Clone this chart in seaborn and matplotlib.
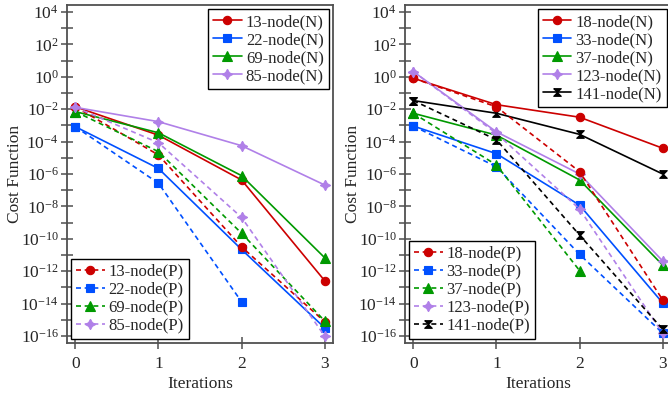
import numpy as np
import pandas as pd
import matplotlib
matplotlib.use("Agg")
import matplotlib.pyplot as plt
import seaborn as sns
from matplotlib.ticker import FixedLocator, FixedFormatter, NullFormatter

# ---------------- data ----------------
iterations = [0, 1, 2, 3]

left_labels_N = ["13-node(N)", "22-node(N)", "69-node(N)", "85-node(N)"]
left_labels_P = ["13-node(P)", "22-node(P)", "69-node(P)", "85-node(P)"]
n13_N = [1.4e-2, 2.5e-4, 4.3e-7, 2.6e-13]
n22_N = [8.3e-4, 2.2e-6, 2.2e-11, 3.2e-16]
n69_N = [7.1e-3, 3.5e-4, 7.9e-7, 6.8e-12]
n85_N = [1.3e-2, 1.7e-3, 5.6e-5, 2.1e-7]
n13_P = [1.4e-2, 1.5e-5, 3.2e-11, 7.6e-16]
n22_P = [8.3e-4, 2.7e-7, 1.3e-14, np.nan]
n69_P = [7.1e-3, 2.4e-5, 2.2e-10, 8.5e-16]
n85_P = [1.3e-2, 8.5e-5, 2.1e-9, 1.0e-16]

right_labels_N = ["18-node(N)", "33-node(N)", "37-node(N)", "123-node(N)", "141-node(N)"]
right_labels_P = ["18-node(P)", "33-node(P)", "37-node(P)", "123-node(P)", "141-node(P)"]
n18_N = [0.81, 1.9e-2, 3.2e-3, 3.9e-5]
n33_N = [9.1e-4, 1.8e-5, 1.2e-8, 1.1e-14]
n37_N = [5.6e-3, 2.5e-4, 4.3e-7, 2.4e-12]
n123_N = [2.1, 4.0e-4, 1.0e-6, 4.3e-12]
n141_N = [3.4e-2, 5.6e-3, 2.8e-4, 1.0e-6]
n18_P = [0.81, 1.4e-2, 1.4e-6, 1.7e-14]
n33_P = [9.1e-4, 2.8e-6, 1.1e-11, 1.5e-16]
n37_P = [5.6e-3, 3.6e-6, 1.1e-12, np.nan]
n123_P = [2.1, 3.2e-4, 6.9e-9, 1.5e-16]
n141_P = [3.4e-2, 1.3e-4, 1.7e-10, 2.6e-16]

ytick_exponents = list(range(-16, 5, 2))
yminor_exponents = list(range(-15, 5, 2))
xtick_labels = ["0", "1", "2", "3"]

# ---------------- style ----------------
sns.set_theme(style="ticks")
plt.rcParams["font.family"] = ["Liberation Serif", "DejaVu Serif"]
plt.rcParams["mathtext.fontset"] = "custom"
plt.rcParams["mathtext.rm"] = "Liberation Serif"
plt.rcParams["mathtext.it"] = "Liberation Serif:italic"
plt.rcParams["axes.unicode_minus"] = False

RED = "#CC0000"
BLUE = "#0050FF"
GREEN = "#009900"
PURPLE = "#B080E8"
BLACK = "#000000"
SPINE = "#505050"

hourglass = [(-1, 1), (1, 1), (-1, -1), (1, -1), (-1, 1)]
star4 = (4, 1, 0)

FS = 12
DASH = (0, (3, 2.2))

fig = plt.figure(figsize=(6.68, 3.96), dpi=100)
ax1 = fig.add_axes([67 / 668, 1 - 343 / 396, 266 / 668, 338 / 396])
ax2 = fig.add_axes([405 / 668, 1 - 343 / 396, 266 / 668, 338 / 396])

msizes = {"o": 6, "s": 6, "^": 6.5}


def draw(ax, series, labels, colors, markers, ls):
    handles = []
    for vals, lab, col, mk in zip(series, labels, colors, markers):
        df = pd.DataFrame({"it": iterations, "cost": vals}).dropna()
        ms = msizes.get(mk, 7.5) if isinstance(mk, str) else (7.5 if mk == star4 else 5.5)
        sns.lineplot(data=df, x="it", y="cost", ax=ax, color=col, marker=mk,
                     markersize=ms, markeredgecolor=col, markeredgewidth=0.8,
                     linewidth=1.2, linestyle=ls, label=lab, errorbar=None,
                     sort=False)
        handles.append(ax.lines[-1])
    return handles


def style_axis(ax):
    ax.set_yscale("log")
    ax.set_xlim(-0.1, 3.1)
    ax.set_ylim(10 ** -16.43, 10 ** 4.43)
    ax.yaxis.set_major_locator(FixedLocator([10.0 ** e for e in ytick_exponents]))
    ax.yaxis.set_major_formatter(FixedFormatter(
        [r"$10^{%d}$" % e for e in ytick_exponents]))
    ax.yaxis.set_minor_locator(FixedLocator([10.0 ** e for e in yminor_exponents]))
    ax.yaxis.set_minor_formatter(NullFormatter())
    ax.set_xticks(iterations)
    ax.set_xticklabels(xtick_labels)
    for s in ax.spines.values():
        s.set_color(SPINE)
        s.set_linewidth(1.3)
    ax.tick_params(axis="both", which="both", direction="inout", length=8,
                   width=1.1, color=SPINE, labelsize=FS + 0.5, pad=2)
    ax.tick_params(axis="x", pad=5)
    ax.set_xlabel("Iterations", fontsize=FS + 0.5, labelpad=3)
    ax.set_ylabel("Cost Function", fontsize=FS + 0.5, labelpad=-2)


def legends(ax, hN, lN, hP, lP):
    kw = dict(fontsize=FS, frameon=True, fancybox=False, edgecolor="black",
              framealpha=1, handlelength=1.7, handletextpad=0.25,
              labelspacing=0.12, borderpad=0.3, borderaxespad=0.25)
    leg1 = ax.legend(hN, lN, loc="upper right", **kw)
    leg1.get_frame().set_linewidth(1.0)
    ax.add_artist(leg1)
    leg2 = ax.legend(hP, lP, loc="lower left", **kw)
    leg2.get_frame().set_linewidth(1.0)


cols4 = [RED, BLUE, GREEN, PURPLE]
mk4 = ["o", "s", "^", star4]
hN1 = draw(ax1, [n13_N, n22_N, n69_N, n85_N], left_labels_N, cols4, mk4, "-")
hP1 = draw(ax1, [n13_P, n22_P, n69_P, n85_P], left_labels_P, cols4, mk4, DASH)
style_axis(ax1)
legends(ax1, hN1, left_labels_N, hP1, left_labels_P)

cols5 = [RED, BLUE, GREEN, PURPLE, BLACK]
mk5 = ["o", "s", "^", star4, hourglass]
hN2 = draw(ax2, [n18_N, n33_N, n37_N, n123_N, n141_N], right_labels_N, cols5, mk5, "-")
hP2 = draw(ax2, [n18_P, n33_P, n37_P, n123_P, n141_P], right_labels_P, cols5, mk5, DASH)
style_axis(ax2)
legends(ax2, hN2, right_labels_N, hP2, right_labels_P)

fig.savefig("out.png", dpi=100)
